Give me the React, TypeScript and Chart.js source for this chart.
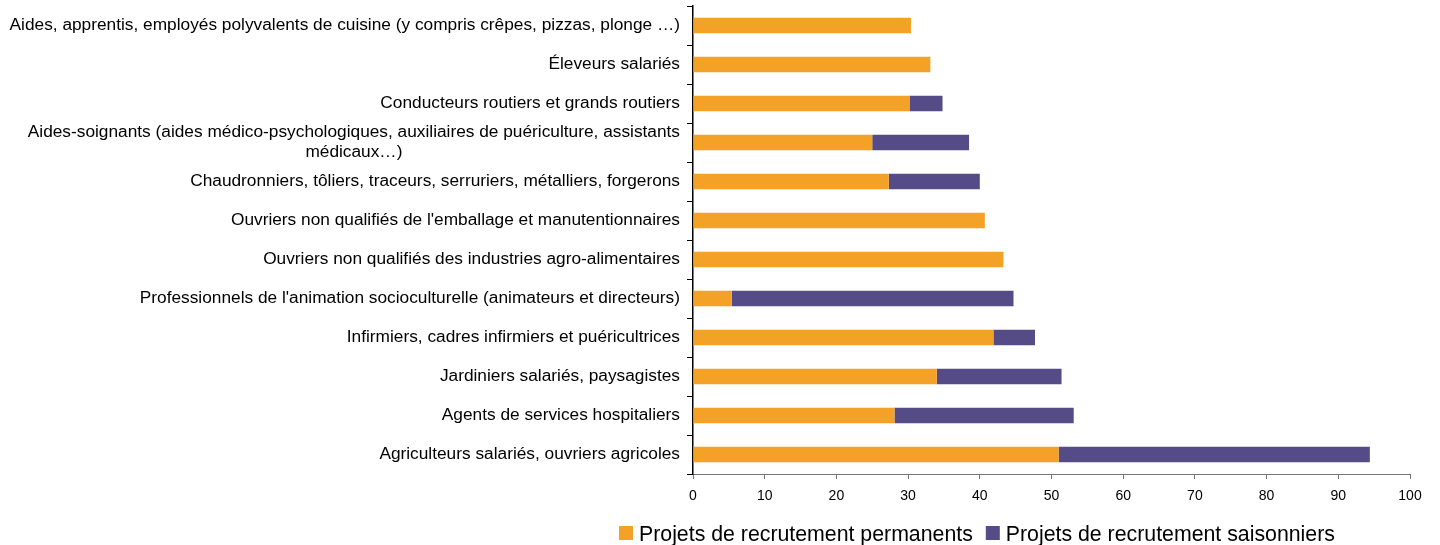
import React, { useEffect, useRef } from "react";
import { Chart, registerables } from "chart.js";

Chart.register(...registerables);

const categories: (string | string[])[] = [
  "Aides, apprentis, employés polyvalents de cuisine (y compris crêpes, pizzas, plonge …)",
  "Éleveurs salariés",
  "Conducteurs routiers et grands routiers",
  ["Aides-soignants (aides médico-psychologiques, auxiliaires de puériculture, assistants", "médicaux…)"],
  "Chaudronniers, tôliers, traceurs, serruriers, métalliers, forgerons",
  "Ouvriers non qualifiés de l'emballage et manutentionnaires",
  "Ouvriers non qualifiés des industries agro-alimentaires",
  "Professionnels de l'animation socioculturelle (animateurs et directeurs)",
  "Infirmiers, cadres infirmiers et puéricultrices",
  "Jardiniers salariés, paysagistes",
  "Agents de services hospitaliers",
  "Agriculteurs salariés, ouvriers agricoles",
];

const permanents = [30.4, 33.1, 30.2, 25.0, 27.3, 40.7, 43.3, 5.4, 41.9, 34.0, 28.1, 51.0];
const saisonniers = [0, 0, 4.6, 13.5, 12.7, 0, 0, 39.3, 5.8, 17.4, 25.0, 43.4];

const seriesNames = ["Projets de recrutement permanents", "Projets de recrutement saisonniers"];
const seriesColors = ["#F4A127", "#554C87"];

const xTicks = [0, 10, 20, 30, 40, 50, 60, 70, 80, 90, 100];

const FONT = "'Liberation Sans', Arial, sans-serif";

const yLabelPlugin = {
  id: "yLabels",
  afterDraw(chart: any) {
    const ctx = chart.ctx;
    const y = chart.scales.y;
    const area = chart.chartArea;
    const labels = chart.data.labels as (string | string[])[];
    ctx.save();
    ctx.font = `17.3px ${FONT}`;
    ctx.fillStyle = "#000";
    ctx.textBaseline = "middle";
    ctx.textAlign = "center";
    const lineH = 20;
    labels.forEach((lab, i) => {
      const lines = Array.isArray(lab) ? lab : [lab];
      const w = Math.max(...lines.map((l) => ctx.measureText(l).width));
      const xRight = area.left - 13;
      const xc = xRight - w / 2;
      const yc = y.getPixelForValue(i);
      lines.forEach((l, j) => {
        ctx.fillText(l, xc, yc + (j - (lines.length - 1) / 2) * lineH);
      });
    });
    ctx.restore();
  },
};

const legendPlugin = {
  id: "customLegend",
  afterDraw(chart: any) {
    const ctx = chart.ctx;
    const area = chart.chartArea;
    ctx.save();
    ctx.font = `21.3px ${FONT}`;
    ctx.textBaseline = "alphabetic";
    ctx.textAlign = "left";
    let x = area.left - 74;
    const boxTop = 526;
    chart.data.datasets.forEach((ds: any) => {
      ctx.fillStyle = ds.backgroundColor;
      ctx.fillRect(x, boxTop, 14, 14);
      x += 20;
      ctx.fillStyle = "#000";
      ctx.fillText(ds.label, x, 541);
      x += ctx.measureText(ds.label).width + 13;
    });
    ctx.restore();
  },
};

export default function App() {
  const ref = useRef<HTMLCanvasElement | null>(null);

  useEffect(() => {
    document.body.style.margin = "0";
    if (!ref.current) return;
    const chart = new Chart(ref.current, {
      type: "bar",
      data: {
        labels: categories as any,
        datasets: [
          {
            label: seriesNames[0],
            data: permanents,
            backgroundColor: seriesColors[0],
            categoryPercentage: 0.8,
            barPercentage: 0.5,
          },
          {
            label: seriesNames[1],
            data: saisonniers,
            backgroundColor: seriesColors[1],
            categoryPercentage: 0.8,
            barPercentage: 0.5,
          },
        ],
      },
      options: {
        indexAxis: "y",
        animation: false,
        responsive: false,
        layout: { padding: { top: 6, right: 30, left: 0, bottom: 0 } },
        plugins: {
          legend: { display: false },
          tooltip: { enabled: false },
        },
        scales: {
          x: {
            stacked: true,
            min: 0,
            max: 100,
            afterBuildTicks: (scale: any) => {
              scale.ticks = xTicks.map((v) => ({ value: v }));
            },
            afterFit: (scale: any) => {
              scale.height = 71;
            },
            grid: {
              drawOnChartArea: false,
              drawTicks: true,
              tickLength: 5,
              color: "#777",
            },
            border: { color: "#777", width: 1 },
            ticks: {
              font: { family: FONT, size: 14 },
              color: "#000",
              padding: 9,
              maxRotation: 0,
            },
          },
          y: {
            stacked: true,
            afterFit: (scale: any) => {
              scale.width = 693;
            },
            grid: {
              drawOnChartArea: false,
              drawTicks: true,
              tickLength: 6,
              color: "#000",
              offset: true,
            },
            border: { color: "#000", width: 1.5 },
            ticks: { display: false },
          },
        },
      },
      plugins: [yLabelPlugin, legendPlugin],
    });
    return () => chart.destroy();
  }, []);

  return (
    <div style={{ width: 1440, height: 545 }}>
      <canvas ref={ref} width={1440} height={545} style={{ display: "block" }} />
    </div>
  );
}
